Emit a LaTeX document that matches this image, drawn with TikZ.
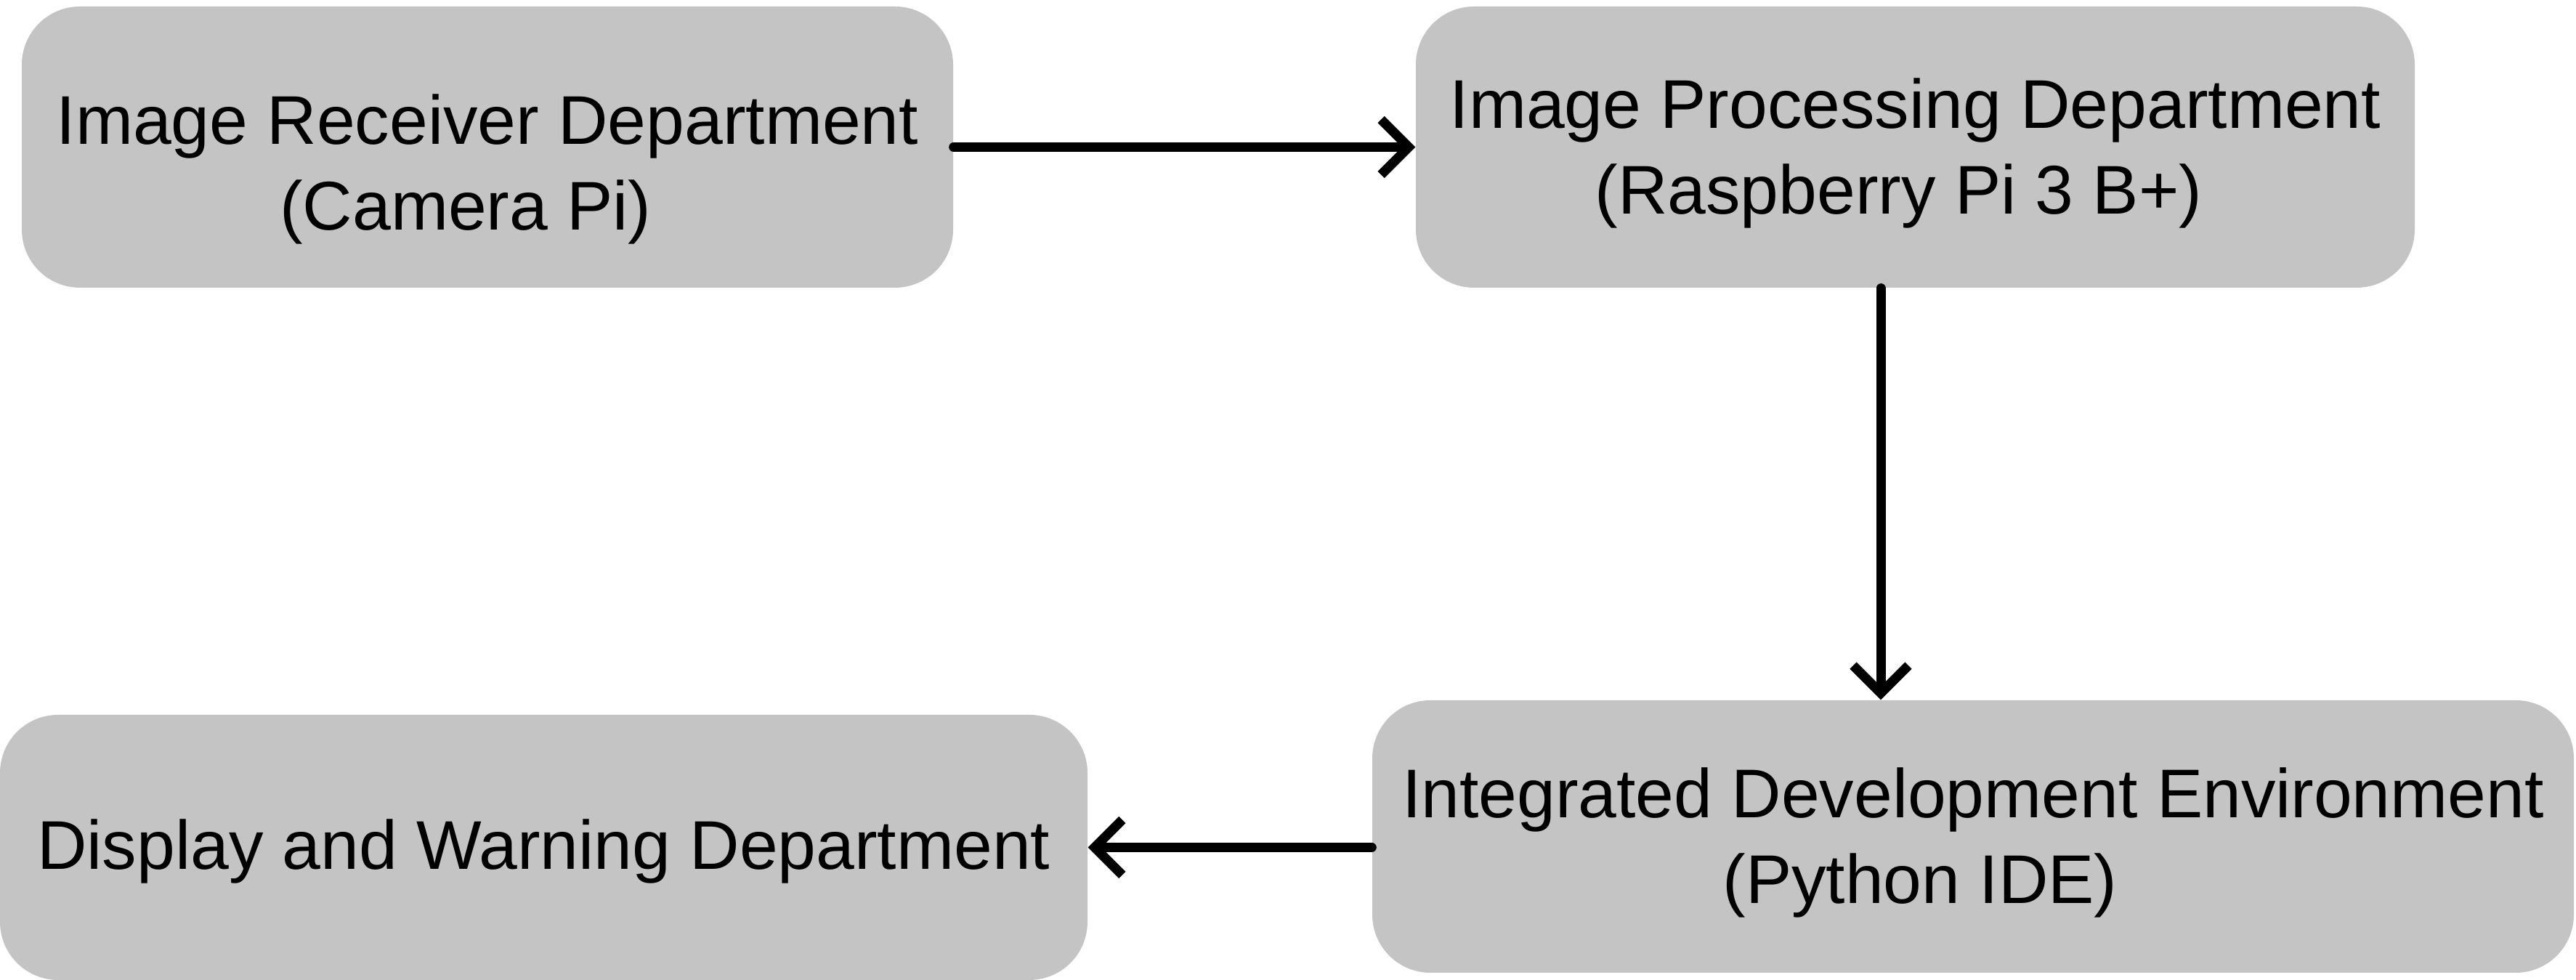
\documentclass[tikz,border=0pt]{standalone}
\usepackage{fontspec}
\setmainfont{Liberation Sans}
\usetikzlibrary{arrows.meta}
\definecolor{boxgray}{RGB}{196,196,196}
\begin{document}
\begin{tikzpicture}[line join=round, line cap=round, >={Straight Barb[length=3.8mm,width=7.6mm]},
	dept/.style={fill=boxgray, rounded corners=.8cm, inner sep=0pt, align=center,
		font=\fontsize{27}{33.6}\selectfont},
	flow/.style={->, line width=3.7pt}]
		\useasboundingbox (0,0) rectangle (35.46,13.49);
		\node[dept, minimum width=12.82cm, minimum height=3.87cm](recv) at (6.71,11.465)
			{\rule{0pt}{1.3cm}Image Receiver Department\\(Camera Pi)\hspace*{.6cm}};
		\node[dept, minimum width=13.75cm, minimum height=3.87cm](proc) at (26.365,11.465)
			{\rule{0pt}{.85cm}Image Processing Department\\(Raspberry Pi 3 B+)\hspace*{.46cm}};
		\node[dept, minimum width=16.54cm, minimum height=3.75cm](ide) at (27.16,1.975)
			{\rule{0pt}{.85cm}Integrated Development Environment\\(Python IDE)\hspace*{1.46cm}};
		\node[dept, minimum width=14.97cm, minimum height=3.65cm](disp) at (7.485,1.825)
			{\rule{0pt}{.8cm}Display and Warning Department};
		\coordinate (down) at (25.89,0);
		\draw[flow](recv.east)--(proc.west);
		\draw[flow](proc.south -| down)--(ide.north -| down);
		\draw[flow](ide.west |- disp)--(disp.east);
	\end{tikzpicture}
\end{document}
